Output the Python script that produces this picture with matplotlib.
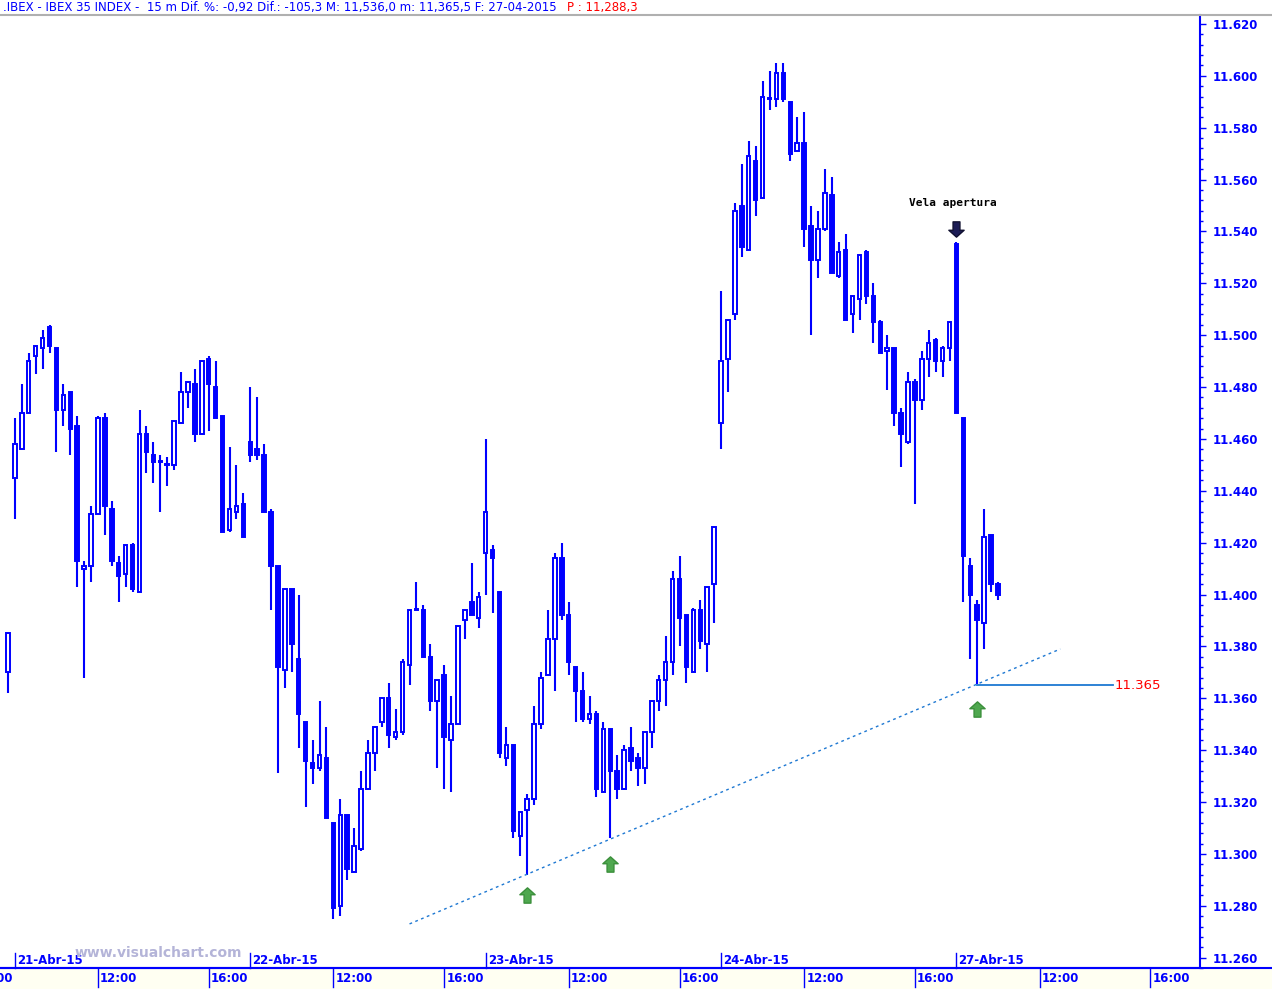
import numpy as np
import matplotlib.pyplot as plt
import matplotlib.transforms as mtransforms
from matplotlib.path import Path
from matplotlib.patches import Rectangle

# 15 minute bars, IBEX 35; bar 0 is the last bar of 20-Abr
opens = [11370, 11445, 11456, 11470, 11492, 11495, 11503, 11495, 11471, 11478,
         11465, 11410, 11411, 11431, 11468, 11433, 11412, 11408, 11419, 11401,
         11462, 11454, 11451, 11450, 11450, 11466, 11478, 11481, 11462, 11491,
         11480, 11469, 11425, 11432, 11435, 11459, 11456, 11454, 11432, 11411,
         11371, 11402, 11375, 11351, 11335, 11333, 11337, 11312, 11280, 11315,
         11293, 11302, 11325, 11339, 11351, 11360, 11345, 11347, 11373, 11394,
         11394, 11376, 11359, 11369, 11344, 11350, 11390, 11397, 11391, 11416,
         11417, 11401, 11337, 11342, 11307, 11317, 11321, 11350, 11369, 11383,
         11414, 11392, 11372, 11363, 11352, 11354, 11324, 11348, 11332, 11325,
         11341, 11337, 11333, 11347, 11359, 11367, 11374, 11406, 11392, 11370,
         11394, 11381, 11404, 11466, 11491, 11508, 11550, 11533, 11567, 11553,
         11591, 11591, 11601, 11590, 11571, 11574, 11542, 11529, 11541, 11554,
         11523, 11533, 11508, 11514, 11532, 11515, 11505, 11494, 11495, 11470,
         11459, 11482, 11475, 11491, 11498, 11490, 11495, 11535, 11468, 11411,
         11396, 11389, 11423, 11404]
highs = [11385, 11468, 11481, 11493, 11496, 11502, 11504, 11495, 11481, 11478,
         11469, 11413, 11434, 11469, 11470, 11436, 11415, 11419, 11420, 11471,
         11465, 11459, 11454, 11453, 11467, 11486, 11482, 11487, 11490, 11492,
         11490, 11469, 11457, 11450, 11439, 11480, 11476, 11458, 11433, 11411,
         11402, 11402, 11400, 11351, 11344, 11359, 11349, 11312, 11321, 11315,
         11310, 11332, 11344, 11349, 11360, 11366, 11356, 11375, 11394, 11405,
         11396, 11381, 11367, 11373, 11361, 11388, 11394, 11412, 11401, 11460,
         11419, 11401, 11349, 11342, 11316, 11323, 11357, 11370, 11394, 11416,
         11420, 11397, 11372, 11370, 11361, 11355, 11351, 11348, 11338, 11342,
         11349, 11339, 11347, 11359, 11369, 11384, 11409, 11415, 11392, 11395,
         11398, 11403, 11426, 11517, 11506, 11551, 11566, 11575, 11573, 11598,
         11602, 11605, 11605, 11590, 11584, 11586, 11550, 11548, 11564, 11561,
         11536, 11539, 11515, 11531, 11533, 11520, 11506, 11500, 11495, 11472,
         11486, 11483, 11494, 11502, 11499, 11496, 11505, 11536, 11468, 11414,
         11398, 11433, 11423, 11405]
lows = [11362, 11429, 11456, 11470, 11485, 11487, 11493, 11455, 11465, 11454,
        11403, 11368, 11405, 11431, 11423, 11411, 11397, 11403, 11401, 11401,
        11447, 11443, 11432, 11442, 11448, 11466, 11472, 11459, 11462, 11463,
        11468, 11424, 11424, 11429, 11422, 11451, 11452, 11432, 11394, 11331,
        11364, 11370, 11341, 11318, 11327, 11332, 11314, 11275, 11276, 11290,
        11293, 11301, 11325, 11332, 11349, 11341, 11344, 11346, 11365, 11394,
        11376, 11355, 11333, 11325, 11324, 11350, 11383, 11392, 11387, 11400,
        11393, 11337, 11334, 11306, 11299, 11292, 11319, 11348, 11369, 11363,
        11390, 11369, 11351, 11351, 11350, 11322, 11324, 11306, 11321, 11325,
        11332, 11326, 11327, 11341, 11355, 11357, 11369, 11380, 11366, 11370,
        11379, 11370, 11389, 11456, 11478, 11506, 11530, 11533, 11546, 11553,
        11587, 11588, 11590, 11567, 11571, 11534, 11500, 11522, 11540, 11524,
        11522, 11506, 11501, 11506, 11512, 11497, 11493, 11479, 11465, 11449,
        11458, 11435, 11471, 11484, 11486, 11484, 11490, 11470, 11397, 11375,
        11365.5, 11379, 11401, 11398]
closes = [11385, 11458, 11470, 11490, 11496, 11499, 11496, 11471, 11477, 11464,
          11413, 11411, 11431, 11468, 11434, 11413, 11407, 11419, 11402, 11462,
          11455, 11451, 11451, 11450, 11467, 11478, 11482, 11462, 11490, 11481,
          11468, 11424, 11433, 11434, 11422, 11454, 11454, 11432, 11411, 11372,
          11402, 11381, 11354, 11336, 11333, 11338, 11314, 11279, 11315, 11294,
          11303, 11325, 11339, 11349, 11360, 11346, 11347, 11374, 11394, 11394,
          11376, 11359, 11367, 11345, 11350, 11388, 11394, 11392, 11399, 11432,
          11414, 11339, 11342, 11309, 11316, 11321, 11350, 11368, 11383, 11414,
          11392, 11374, 11363, 11352, 11354, 11325, 11348, 11332, 11325, 11340,
          11336, 11333, 11347, 11359, 11367, 11374, 11406, 11391, 11372, 11394,
          11382, 11403, 11426, 11490, 11506, 11548, 11534, 11569, 11552, 11592,
          11591, 11601, 11591, 11570, 11574, 11541, 11529, 11541, 11555, 11524,
          11532, 11506, 11515, 11531, 11515, 11505, 11493, 11495, 11470, 11462,
          11482, 11475, 11491, 11497, 11490, 11495, 11505, 11470, 11415, 11400,
          11390, 11422, 11404, 11400]

day_labels = ['21-Abr-15', '22-Abr-15', '23-Abr-15', '24-Abr-15', '27-Abr-15']
bars_per_day = 34
first_day_bar = 1
hour_labels = ['12:00', '16:00']
hour_bars = [12, 28]

trend_x = [58, 152]
trend_y = [11273, 11379]
support = 11365
support_x = [140, 159.6]
up_marks_x = [75, 87, 140]
up_marks_y = [11284, 11296, 11356]
open_bar = 137
open_mark_y = 11541

header = ".IBEX - IBEX 35 INDEX -  15 m Dif. %: -0,92 Dif.: -105,3 M: 11,536,0 m: 11,365,5 F: 27-04-2015"
header_red = "P : 11,288,3"

blue = '#0000ff'
W, H = 1272, 989

fig = plt.figure(figsize=(W / 100, H / 100), dpi=100)
fig.patch.set_facecolor('white')
strip = Rectangle((0, 0), 1, 21 / H, transform=fig.transFigure,
                  facecolor='#fffff2', edgecolor='none', zorder=-1)
fig.add_artist(strip)
ax = fig.add_axes([0, 21 / H, 1200 / W, (968 - 15) / H])
ax.set_facecolor('white')

x = np.arange(len(opens))
o = np.array(opens, float)
c = np.array(closes, float)
hi = np.array(highs, float)
lo = np.array(lows, float)
up = c >= o
bottom = np.minimum(o, c)
height = np.maximum(np.abs(c - o), 0.4)

ax.vlines(x, lo, hi, color=blue, lw=1.5, zorder=2)
ax.bar(x[up], height[up], bottom=bottom[up], width=0.5,
       facecolor='white', edgecolor=blue, lw=1.4, zorder=3)
ax.bar(x[~up], height[~up], bottom=bottom[~up], width=0.5,
       facecolor=blue, edgecolor=blue, lw=1.4, zorder=3)

# trend line and support
ax.plot(trend_x, trend_y, color='#1e78d2', lw=1, ls=(0, (2, 2.5)), zorder=4)
ax.plot(support_x, [support, support], color='#1e78d2', lw=1.3, zorder=4)
ax.text(support_x[1] + 0.3, support, '11.365', color='#ff0000', fontsize=9.5,
        va='center', ha='left')

# arrows
arrow = Path([(0, 1), (-1, 0.1), (-0.45, 0.1), (-0.45, -1), (0.45, -1),
              (0.45, 0.1), (1, 0.1), (0, 1)],
             [Path.MOVETO] + [Path.LINETO] * 6 + [Path.CLOSEPOLY])
down_arrow = Path(arrow.vertices * [1, -1], arrow.codes)
ax.plot(up_marks_x, up_marks_y, ls='none', marker=arrow, markersize=11,
        markerfacecolor='#4fa84f', markeredgecolor='#3b8f3b', zorder=5)
ax.plot([open_bar], [open_mark_y], ls='none', marker=down_arrow, markersize=11,
        markerfacecolor='#1c1c55', markeredgecolor='#101030', zorder=5)
ax.text(open_bar - 0.5, 11551, 'Vela apertura', family='DejaVu Sans Mono',
        fontweight='bold', fontsize=8, ha='center', va='center', color='black')

ax.set_xlim(-8 / 6.923, 1192 / 6.923)
ax.set_ylim(11620 - 944 * 0.3854, 11620 + 9 * 0.3854)

# right price axis
for s in ['left', 'top']:
    ax.spines[s].set_visible(False)
for s in ['right', 'bottom']:
    ax.spines[s].set_color(blue)
    ax.spines[s].set_linewidth(1.5)
ax.yaxis.tick_right()
ticks = np.arange(11260, 11621, 20)
ax.set_yticks(ticks)
ax.set_yticklabels([f'{t / 1000:.3f}' for t in ticks])
ax.set_yticks(np.arange(11256, 11624, 4), minor=True)
ax.tick_params(axis='y', which='major', direction='out', length=4, width=1,
               color=blue, labelcolor=blue, labelsize=8.5, pad=5)
ax.tick_params(axis='y', which='minor', direction='out', length=2, width=1,
               color=blue)
for lab in ax.get_yticklabels():
    lab.set_fontweight('bold')
ax.set_xticks([])

# time axis drawn by hand
tr = mtransforms.blended_transform_factory(ax.transData, fig.transFigure)
fy = lambda py: (H - py) / H
for d in range(-1, len(day_labels)):
    start = first_day_bar + d * bars_per_day
    if d >= 0:
        ax.plot([start, start], [fy(953), fy(968)], color=blue, lw=1,
                transform=tr, clip_on=False)
        ax.text(start + 0.3, fy(961), day_labels[d], transform=tr, color=blue,
                fontsize=8.5, fontweight='bold', ha='left', va='center')
    for lab, hb in zip(hour_labels, hour_bars):
        xt = start + hb
        ax.plot([xt, xt], [fy(969), fy(987)], color=blue, lw=1,
                transform=tr, clip_on=False)
        ax.text(xt + 0.3, fy(979), lab, transform=tr, color=blue,
                fontsize=8.5, fontweight='bold', ha='left', va='center',
                clip_on=False)

fig.lines.append(plt.Line2D([0, 1], [fy(968), fy(968)], transform=fig.transFigure,
                            color=blue, lw=1.5))
fig.lines.append(plt.Line2D([0, 1], [fy(15), fy(15)], transform=fig.transFigure,
                            color='#b0b0b0', lw=1.5))

fig.text(3 / W, fy(7), header, color=blue, fontsize=8.5, va='center', ha='left')
fig.text(567 / W, fy(7), header_red, color='#ff0000', fontsize=8.5,
         va='center', ha='left')
fig.text(75 / W, fy(953), 'www.visualchart.com', color='#b4b4d8', fontsize=10,
         fontweight='bold', va='center', ha='left')

fig.savefig('out.png', dpi=100)
